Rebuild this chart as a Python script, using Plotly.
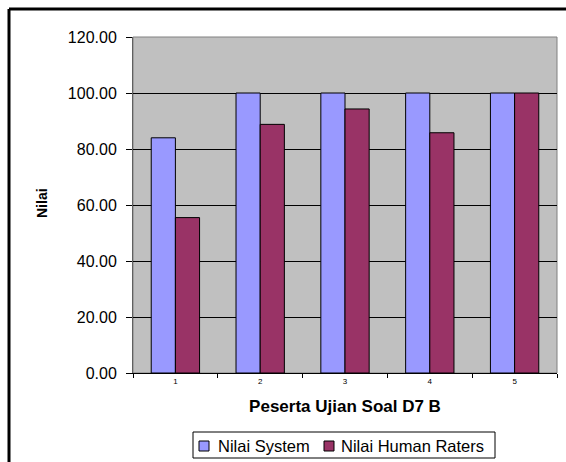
import plotly.graph_objects as go

categories = ["1", "2", "3", "4", "5"]
nilai_system = [84.0, 100.0, 100.0, 100.0, 100.0]
nilai_human = [55.5, 88.8, 94.3, 85.8, 100.0]
y_ticks = [0, 20, 40, 60, 80, 100, 120]
series_names = ["Nilai System", "Nilai Human Raters"]
series_colors = ["#9999FF", "#993366"]

FONT = "Liberation Sans, Arial, sans-serif"

# plot area in pixels: left 133, right 557, top 37, bottom 373
def px(x):
    return (x - 133) / 424

def py(y):
    return (373 - y) / 336

fig = go.Figure()
for name, vals, col in zip(series_names, [nilai_system, nilai_human], series_colors):
    fig.add_trace(go.Bar(name=name, x=categories, y=vals,
                         marker=dict(color=col, line=dict(color="black", width=1))))

shapes = [
    dict(type="rect", xref="paper", yref="paper", x0=0, x1=1, y0=0, y1=1,
         line=dict(color="#808080", width=1), layer="below"),
    dict(type="line", xref="paper", yref="paper", x0=px(9), x1=1.1, y0=py(9), y1=py(9),
         line=dict(color="black", width=3)),
    dict(type="line", xref="paper", yref="paper", x0=px(9), x1=px(9), y0=py(9), y1=py(480),
         line=dict(color="black", width=3)),
    # legend box
    dict(type="rect", xref="paper", yref="paper", x0=px(193), x1=px(495), y0=py(458), y1=py(432),
         line=dict(color="black", width=1), fillcolor="white"),
]
annotations = [
    dict(text="<b>Nilai</b>", xref="paper", yref="paper", x=px(42), y=py(203),
         xanchor="center", yanchor="middle", textangle=-90, showarrow=False,
         font=dict(size=14, family=FONT)),
]
leg_sq_x = [199, 324]
leg_txt_x = [216, 339]
for name, col, sx, tx in zip(series_names, series_colors, leg_sq_x, leg_txt_x):
    shapes.append(dict(type="rect", xref="paper", yref="paper", x0=px(sx), x1=px(sx + 10),
                       y0=py(451), y1=py(441), line=dict(color="black", width=1), fillcolor=col))
    annotations.append(dict(text=name, xref="paper", yref="paper", x=px(tx), y=py(446),
                            xanchor="left", yanchor="middle", showarrow=False,
                            font=dict(size=16.5, family=FONT)))

fig.update_layout(
    width=566, height=462,
    margin=dict(l=133, r=9, t=37, b=89),
    paper_bgcolor="white", plot_bgcolor="#C0C0C0",
    barmode="group", bargap=0.43, bargroupgap=0,
    font=dict(family=FONT, color="black"),
    showlegend=False,
    xaxis=dict(type="category", showline=True, linecolor="black", linewidth=1,
               ticks="outside", tickson="boundaries", ticklen=4, tickcolor="black",
               tickfont=dict(size=8), showgrid=False, automargin=False,
               title=dict(text="<b>Peserta Ujian Soal D7 B</b>", font=dict(size=17), standoff=15)),
    yaxis=dict(range=[0, 120], tickvals=y_ticks, tickformat=".2f",
               showline=True, linecolor="#606060", linewidth=1,
               ticks="outside", ticklen=6, tickcolor="black", ticklabelstandoff=6,
               tickfont=dict(size=16), showgrid=True, gridcolor="black", gridwidth=1,
               zeroline=False, automargin=False),
    shapes=shapes,
    annotations=annotations,
)

fig.write_html("out.html", config={"displayModeBar": False},
               post_script="document.body.style.margin='0';")
